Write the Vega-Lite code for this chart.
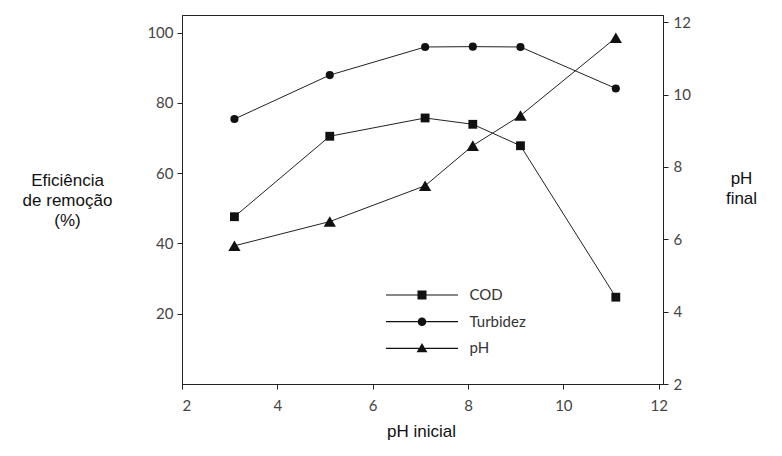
{
  "$schema": "https://vega.github.io/schema/vega-lite/v6.json",
  "width": 481,
  "height": 369,
  "autosize": {"type": "none"},
  "padding": {"left": 182, "top": 15, "right": 119, "bottom": 72},
  "background": "white",
  "config": {
    "view": {"stroke": "#222", "strokeWidth": 1},
    "axis": {
      "grid": false,
      "domainColor": "#222",
      "tickColor": "#222",
      "tickSize": 5,
      "labelFont": "Lato",
      "labelFontSize": 15,
      "labelColor": "#444",
      "titleFont": "Liberation Sans",
      "titleFontSize": 17,
      "titleFontWeight": "normal",
      "titleColor": "#111"
    }
  },
  "datasets": {
    "remocao": [
      {"phi": 3.1, "serie": "COD", "ef": 47.6},
      {"phi": 5.1, "serie": "COD", "ef": 70.5},
      {"phi": 7.1, "serie": "COD", "ef": 75.7},
      {"phi": 8.1, "serie": "COD", "ef": 73.9},
      {"phi": 9.1, "serie": "COD", "ef": 67.8},
      {"phi": 11.1, "serie": "COD", "ef": 24.7},
      {"phi": 3.1, "serie": "Turbidez", "ef": 75.4},
      {"phi": 5.1, "serie": "Turbidez", "ef": 87.9},
      {"phi": 7.1, "serie": "Turbidez", "ef": 95.9},
      {"phi": 8.1, "serie": "Turbidez", "ef": 96.0},
      {"phi": 9.1, "serie": "Turbidez", "ef": 95.9},
      {"phi": 11.1, "serie": "Turbidez", "ef": 84.1}
    ],
    "phfinal": [
      {"phi": 3.1, "serie": "pH", "phf": 5.82},
      {"phi": 5.1, "serie": "pH", "phf": 6.49},
      {"phi": 7.1, "serie": "pH", "phf": 7.48},
      {"phi": 8.1, "serie": "pH", "phf": 8.59},
      {"phi": 9.1, "serie": "pH", "phf": 9.42},
      {"phi": 11.1, "serie": "pH", "phf": 11.57}
    ]
  },
  "layer": [
    {
      "data": {"name": "remocao"},
      "encoding": {
        "x": {
          "field": "phi",
          "type": "quantitative",
          "scale": {"domain": [2, 12.09], "nice": false, "zero": false},
          "axis": {
            "values": [2, 4, 6, 8, 10, 12],
            "title": "pH inicial",
            "titleX": 239,
            "titleY": 52,
            "titleAlign": "center",
            "titleBaseline": "alphabetic",
            "labelPadding": 9
          }
        },
        "y": {
          "field": "ef",
          "type": "quantitative",
          "scale": {"domain": [0, 105], "nice": false, "zero": false},
          "axis": {
            "orient": "left",
            "values": [20, 40, 60, 80, 100],
            "title": ["Eficiência", "de remoção", "(%)"],
            "titleAngle": 0,
            "titleX": -115,
            "titleY": 170,
            "titleAlign": "center",
            "titleBaseline": "alphabetic",
            "titleLineHeight": 20,
            "labelPadding": 4
          }
        }
      },
      "layer": [
        {
          "mark": {"type": "line", "color": "#222", "strokeWidth": 1},
          "encoding": {"detail": {"field": "serie"}}
        },
        {
          "transform": [{"filter": "datum.serie === 'COD'"}],
          "mark": {"type": "point", "filled": true, "color": "#111", "opacity": 1, "size": 78, "shape": "square"},
          "encoding": {}
        },
        {
          "transform": [{"filter": "datum.serie === 'Turbidez'"}],
          "mark": {"type": "point", "filled": true, "color": "#111", "opacity": 1, "size": 66, "shape": "circle"},
          "encoding": {}
        },
        {
          "transform": [{"filter": "false"}],
          "mark": {"type": "point", "filled": true, "color": "#111", "opacity": 1},
          "encoding": {
            "shape": {
              "field": "serie",
              "type": "nominal",
              "scale": {
                "domain": ["COD", "Turbidez", "pH"],
                "range": [
                  "M-1,-0.016H-0.125V0.016H-1ZM0.125,-0.016H1V0.016H0.125ZM-0.125,-0.125H0.125V0.125H-0.125Z",
                  "M-1,-0.016H-0.12V0.016H-1ZM0.12,-0.016H1V0.016H0.12ZM-0.12,0A0.12,0.12 0 1,1 0.12,0A0.12,0.12 0 1,1 -0.12,0Z",
                  "M-1,-0.016H-0.085V0.016H-1ZM0.085,-0.016H1V0.016H0.085ZM0,-0.15L0.15,0.11L-0.15,0.11Z"
                ]
              },
              "legend": {
                "orient": "none",
                "legendX": 203,
                "legendY": 272,
                "title": null,
                "padding": 0,
                "symbolSize": 5184,
                "symbolFillColor": "#111",
                "symbolOpacity": 1,
                "clipHeight": 16,
                "rowPadding": 10.7,
                "labelOffset": 10.5,
                "labelFont": "Lato",
                "labelFontSize": 15,
                "labelColor": "#333"
              }
            }
          }
        }
      ]
    },
    {
      "data": {"name": "phfinal"},
      "encoding": {
        "x": {"field": "phi", "type": "quantitative"},
        "y": {
          "field": "phf",
          "type": "quantitative",
          "scale": {"domain": [2, 12.2], "nice": false, "zero": false},
          "axis": {
            "orient": "right",
            "values": [2, 4, 6, 8, 10, 12],
            "title": ["pH", "final"],
            "titleAngle": 0,
            "titleX": 78,
            "titleY": 168,
            "titleAlign": "center",
            "titleBaseline": "alphabetic",
            "titleLineHeight": 20,
            "labelPadding": 5
          }
        }
      },
      "layer": [
        {
          "mark": {"type": "line", "color": "#222", "strokeWidth": 1},
          "encoding": {}
        },
        {
          "mark": {"type": "point", "filled": true, "color": "#111", "opacity": 1, "size": 150, "shape": "triangle-up"},
          "encoding": {}
        }
      ]
    }
  ],
  "resolve": {"scale": {"y": "independent"}}
}
